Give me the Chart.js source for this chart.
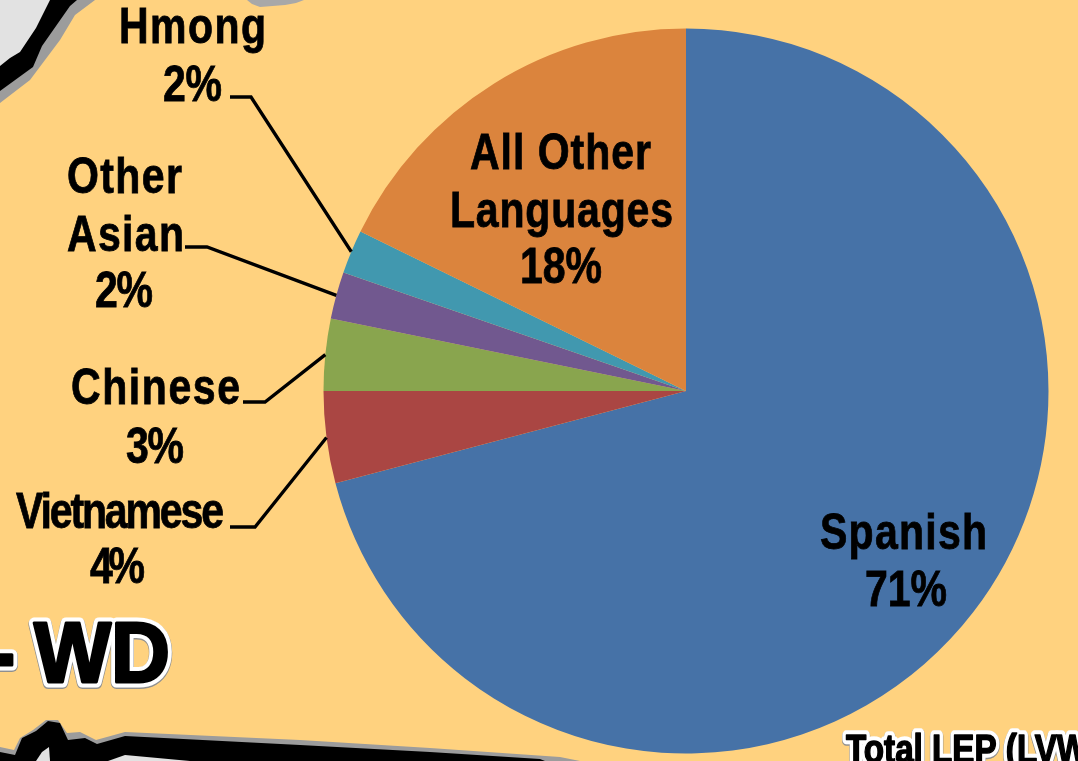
<!DOCTYPE html>
<html><head><meta charset="utf-8">
<style>html,body{margin:0;padding:0;background:#FFD27F;overflow:hidden}canvas{display:block}</style>
<script src="https://cdn.jsdelivr.net/npm/chart.js@4/dist/chart.umd.min.js"></script>
</head><body><canvas id="c" width="1078" height="761"></canvas>
<script>
const categories = ['Spanish','Vietnamese','Chinese','Other Asian','Hmong','All Other Languages'];
const shares = [70.9,4.1,3.2,2.1,1.95,17.75];
const shareLabels = ['71%','4%','3%','2%','2%','18%'];
const colors = ['#4672A7','#AA4643','#89A54E','#71588F','#4198AF','#DB843D'];

const FONT = 'bold 50px "Liberation Sans",sans-serif';
const NARROW = 0.82;
// text lines: [text, left, right, baseline]
const textLayout = [
 [['Spanish',820,987,549],[shareLabels[0],865,947,606]],
 [['Vietnamese',16,224,528],[shareLabels[1],90,145,583]],
 [['Chinese',71,240,404],[shareLabels[2],126,184,463]],
 [['Other',67,182,193],['Asian',67,184,251],[shareLabels[3],95,153,307]],
 [['Hmong',119,266,43],[shareLabels[4],163,222,101]],
 [['All Other',470,651,169],['Languages',450,673,227],[shareLabels[5],520,602,283]]
];
const leaderStart = {1:[[230,527],[255,527]],2:[[243,402],[265,402]],3:[[185,247],[207,247]],4:[[230,97],[251,97]]};

function poly(ctx,pts,fill){ctx.beginPath();pts.forEach((p,i)=>i?ctx.lineTo(p[0],p[1]):ctx.moveTo(p[0],p[1]));ctx.closePath();ctx.fillStyle=fill;ctx.fill();}
function fitText(ctx,t,l,r,y){
  ctx.save();ctx.translate(l,y);ctx.scale(NARROW,1);
  ctx.letterSpacing='0px';
  const w=ctx.measureText(t).width;
  ctx.letterSpacing=(((r-l)/NARROW-w)/Math.max(1,t.length-1)).toFixed(2)+'px';
  ctx.lineWidth=0.8;ctx.strokeStyle='#000';
  ctx.strokeText(t,0,0);ctx.fillText(t,0,0);
  ctx.restore();
}
function outlined(ctx,t,x,y,sx,lw,thick){
  ctx.save();ctx.translate(x,y);ctx.scale(sx,1);ctx.lineJoin='round';
  ctx.strokeStyle='#8f8f8f';ctx.lineWidth=lw+1+thick;ctx.strokeText(t,0,1);
  ctx.strokeStyle='#fff';ctx.lineWidth=lw+thick;ctx.strokeText(t,0,0);
  ctx.strokeStyle='#000';ctx.lineWidth=thick;ctx.strokeText(t,0,0);
  ctx.fillStyle='#000';ctx.fillText(t,0,0);ctx.restore();
}
const mapBorders={id:'mapBorders',beforeDraw(ch){
  const c=ch.ctx;c.save();
  c.fillStyle='#FFD27F';c.fillRect(0,0,1078,761);
  // top-left boundary
  poly(c,[[0,0],[95,0],[75,15],[60,40],[30,80],[0,103]],'#9c9c9c');
  poly(c,[[0,0],[77,0],[70,6],[42,46],[33,67],[0,91]],'#000');
  poly(c,[[0,0],[50,0],[36,28],[20,52],[10,58],[0,66]],'#e2e2e2');
  poly(c,[[247,0],[252,4],[260,7],[285,5],[296,3],[304,0]],'#a8a8a8');
  // bottom boundary
  poly(c,[[0,747],[14,750],[20,738],[33,730],[46,720],[58,720],[67,733],[80,732],[96,740],[125,732],[300,740],[430,748],[560,757],[580,761],[0,761]],'#9c9c9c');
  poly(c,[[0,752],[15,755],[22,738],[36,731],[48,721],[60,723],[68,740],[85,738],[97,744],[125,736],[300,745],[430,752],[540,759],[545,761],[0,761]],'#000');
  poly(c,[[36,761],[42,752],[49,747],[50,761]],'#e2e2e2');
  poly(c,[[108,761],[125,755],[190,761]],'#e2e2e2');
  c.restore();
}};
const annotations={id:'annotations',afterDraw(ch){
  const c=ch.ctx,arcs=ch.getDatasetMeta(0).data;c.save();
  c.strokeStyle='#000';c.lineWidth=3.3;c.lineJoin='miter';
  Object.keys(leaderStart).forEach(k=>{
    const a=arcs[k],m=(a.startAngle+a.endAngle)/2,s=leaderStart[k];
    c.beginPath();c.moveTo(s[0][0],s[0][1]);c.lineTo(s[1][0],s[1][1]);
    c.lineTo(a.x+a.outerRadius*Math.cos(m),a.y+a.outerRadius*Math.sin(m));c.stroke();
  });
  c.font=FONT;c.fillStyle='#000';c.textAlign='left';c.textBaseline='alphabetic';
  textLayout.forEach(g=>g.forEach(l=>fitText(c,l[0],l[1],l[2],l[3])));
  // WD text
  c.font='bold 85px "Liberation Sans",sans-serif';
  outlined(c,'WD',34,682,0.96,8,3);
  outlined(c,'-',-13,682,1.0,8,3);
  // Total LEP text
  c.font='bold 40px "Liberation Sans",sans-serif';
  outlined(c,'Total LEP (LVW',846,763,0.83,8,1.5);
  c.restore();
}};
new Chart(document.getElementById('c').getContext('2d'),{
  type:'pie',
  data:{labels:categories,datasets:[{data:shares,backgroundColor:colors,borderWidth:0}]},
  options:{responsive:false,animation:false,
    layout:{padding:{left:323.5,right:29.5,top:28.5,bottom:7.5}},
    plugins:{legend:{display:false},tooltip:{enabled:false}}},
  plugins:[mapBorders,annotations]
});
</script></body></html>
